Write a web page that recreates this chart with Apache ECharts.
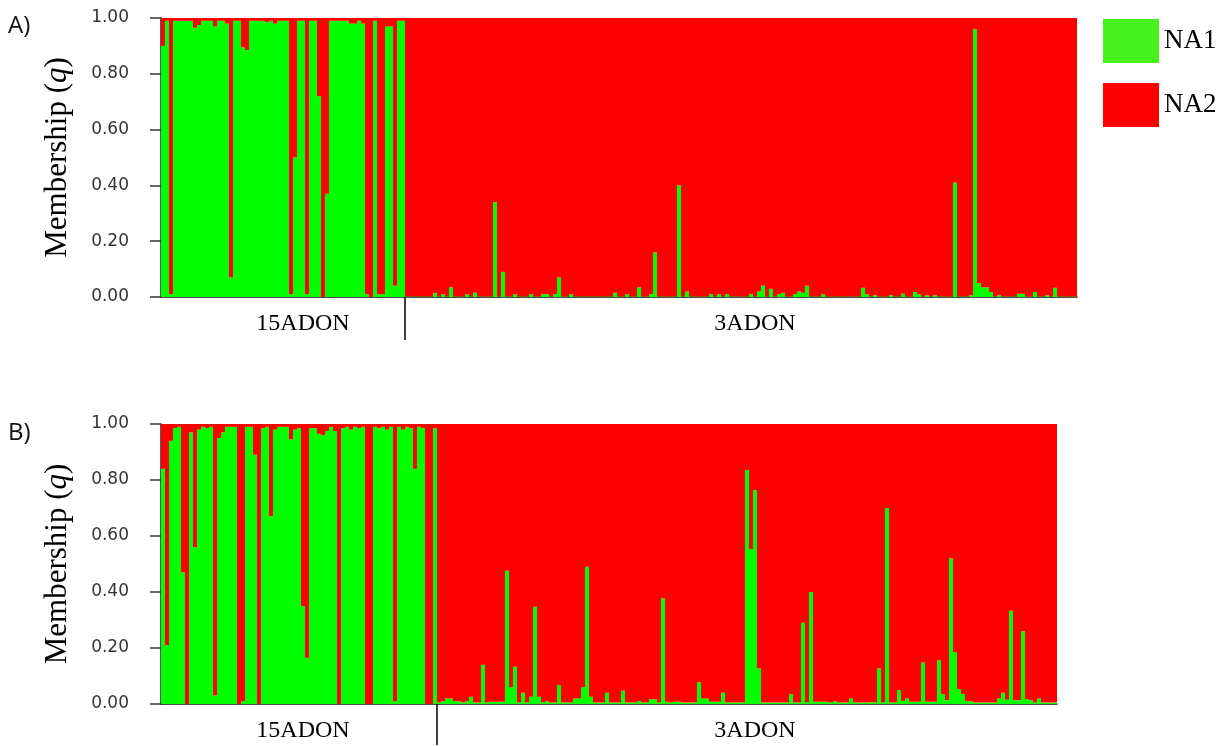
<!DOCTYPE html>
<html>
<head>
<meta charset="utf-8">
<script src="https://cdn.jsdelivr.net/npm/echarts@6/dist/echarts.min.js"></script>
<style>
html,body{margin:0;padding:0;background:#fff}
#chart{width:1231px;height:746px}
</style>
</head>
<body>
<div id="chart"></div>
<script>
// membership (q) of each isolate in cluster NA1; NA2 = 1 - q
var groups = ['15ADON', '3ADON'];
var clusters = ['NA1', 'NA2'];

// panel A
var qA15 = [0.90,0.99,0.01,0.99,0.99,0.99,0.99,0.99,0.965,0.975,
  0.99,0.99,0.99,0.97,0.99,0.99,0.98,0.07,0.99,0.99,
  0.895,0.885,0.99,0.99,0.99,0.99,0.985,0.99,0.98,0.99,
  0.99,0.99,0.01,0.50,0.99,0.99,0.01,0.99,0.99,0.72,
  0.00,0.37,0.99,0.99,0.99,0.99,0.99,0.98,0.98,0.99,
  0.98,0.01,0.00,0.99,0.01,0.01,0.97,0.97,0.04,0.99,
  0.99];
var qA3 = [0.002,0.002,0.002,0.002,0.002,0.002,0.002,0.013,0.002,0.01,
  0.002,0.035,0.002,0.002,0.002,0.01,0.002,0.015,0.002,0.002,
  0.002,0.002,0.34,0.002,0.09,0.002,0.002,0.01,0.002,0.002,
  0.002,0.01,0.002,0.002,0.01,0.01,0.002,0.01,0.07,0.002,
  0.002,0.01,0.002,0.002,0.002,0.002,0.002,0.002,0.002,0.002,
  0.002,0.002,0.015,0.002,0.002,0.01,0.002,0.002,0.035,0.002,
  0.002,0.01,0.16,0.002,0.002,0.002,0.002,0.002,0.40,0.002,
  0.02,0.002,0.002,0.002,0.002,0.002,0.01,0.002,0.01,0.002,
  0.01,0.002,0.002,0.002,0.002,0.002,0.01,0.002,0.02,0.04,
  0.002,0.03,0.002,0.01,0.015,0.002,0.002,0.01,0.02,0.015,
  0.04,0.002,0.002,0.002,0.01,0.002,0.002,0.002,0.002,0.002,
  0.002,0.002,0.002,0.002,0.033,0.01,0.002,0.006,0.002,0.002,
  0.002,0.006,0.002,0.002,0.012,0.002,0.002,0.018,0.01,0.002,
  0.006,0.002,0.006,0.002,0.002,0.002,0.002,0.41,0.002,0.002,
  0.002,0.006,0.96,0.05,0.035,0.035,0.018,0.002,0.006,0.002,
  0.002,0.002,0.002,0.012,0.012,0.002,0.002,0.018,0.002,0.002,
  0.006,0.002,0.033,0.002,0.002,0.002,0.002,0.002];

// panel B
var qB15 = [0.84,0.21,0.94,0.985,0.99,0.47,0.00,0.97,0.56,0.98,
  0.99,0.985,0.99,0.03,0.95,0.97,0.99,0.99,0.99,0.00,
  0.01,0.99,0.99,0.89,0.00,0.985,0.99,0.67,0.98,0.99,
  0.99,0.99,0.945,0.98,0.985,0.35,0.165,0.985,0.985,0.965,
  0.96,0.975,0.99,0.975,0.00,0.985,0.99,0.98,0.99,0.985,
  0.99,0.00,0.00,0.99,0.985,0.99,0.98,0.99,0.01,0.99,
  0.98,0.99,0.985,0.84,0.99,0.985,0.00,0.00,0.985];
var qB3 = [0.005,0.01,0.02,0.02,0.01,0.01,0.005,0.01,0.026,0.005,
  0.005,0.14,0.005,0.008,0.008,0.008,0.008,0.476,0.06,0.133,
  0.005,0.04,0.005,0.026,0.347,0.026,0.005,0.01,0.005,0.005,
  0.068,0.005,0.005,0.005,0.02,0.02,0.06,0.49,0.026,0.005,
  0.005,0.005,0.04,0.005,0.005,0.005,0.047,0.005,0.005,0.005,
  0.01,0.005,0.005,0.017,0.017,0.005,0.377,0.008,0.005,0.008,
  0.008,0.005,0.005,0.005,0.005,0.078,0.02,0.02,0.008,0.008,
  0.008,0.04,0.005,0.005,0.005,0.005,0.005,0.836,0.553,0.764,
  0.127,0.005,0.005,0.005,0.005,0.005,0.005,0.005,0.035,0.005,
  0.005,0.29,0.005,0.40,0.008,0.008,0.008,0.008,0.005,0.01,
  0.005,0.005,0.005,0.02,0.005,0.005,0.005,0.005,0.006,0.005,
  0.127,0.005,0.70,0.005,0.006,0.05,0.011,0.02,0.008,0.008,
  0.008,0.148,0.008,0.008,0.008,0.156,0.036,0.013,0.52,0.185,
  0.054,0.036,0.01,0.01,0.005,0.005,0.005,0.005,0.005,0.005,
  0.02,0.04,0.015,0.333,0.013,0.013,0.26,0.017,0.013,0.005,
  0.02,0.005,0.005,0.005,0.005];

var GREEN = '#00ff00', RED = '#ff0000';
var serif = 'Liberation Serif';

function ids(n) {
  var a = [];
  for (var i = 1; i <= n; i++) a.push(String(i));
  return a;
}

// category index under which each group name is written
var labelAt = {35: groups[0], 148: groups[1]};

var qA = qA15.concat(qA3);
var qB = qB15.concat(qB3);

function makeX(grid, n) {
  return {
    gridIndex: grid,
    type: 'category',
    data: ids(n),
    boundaryGap: true,
    axisLine: {lineStyle: {color: '#111', width: 1.5}},
    axisTick: {show: false},
    axisLabel: {
      interval: function (i) { return labelAt[i] !== undefined; },
      formatter: function (v, i) { return labelAt[i] || ''; },
      margin: 15,
      fontFamily: serif,
      fontSize: 24,
      color: '#000'
    },
    splitLine: {show: false}
  };
}

function makeY(grid) {
  return {
    gridIndex: grid,
    type: 'value',
    min: 0,
    max: 1,
    interval: 0.2,
    name: 'Membership ({i|q})',
    nameLocation: 'middle',
    nameGap: 88,
    nameTextStyle: {
      fontFamily: serif, fontSize: 31, color: '#000',
      rich: {i: {fontFamily: serif, fontSize: 31, fontStyle: 'italic', color: '#000'}}
    },
    axisLine: {show: true, lineStyle: {color: '#222', width: 1.5}},
    axisTick: {show: true, length: 11, lineStyle: {color: '#333', width: 1.5}},
    axisLabel: {
      margin: 32,
      fontFamily: 'DejaVu Sans',
      fontSize: 17,
      color: '#333',
      formatter: function (v) { return v.toFixed(2); }
    },
    splitLine: {show: false}
  };
}

function makeSeries(q, idx) {
  return [
    {
      name: clusters[0], type: 'bar', stack: 'p' + idx,
      xAxisIndex: idx, yAxisIndex: idx,
      data: q, barCategoryGap: '0%',
      itemStyle: {color: GREEN},
      emphasis: {disabled: true}
    },
    {
      name: clusters[1], type: 'bar', stack: 'p' + idx,
      xAxisIndex: idx, yAxisIndex: idx,
      data: q.map(function (v) { return +(1 - v).toFixed(4); }),
      barCategoryGap: '0%',
      itemStyle: {color: RED},
      emphasis: {disabled: true}
    }
  ];
}

var chart = echarts.init(document.getElementById('chart'), null, {renderer: 'canvas'});
chart.setOption({
  animation: false,
  backgroundColor: '#fff',
  grid: [
    {left: 161, top: 18, width: qA.length * 4, height: 279},
    {left: 161, top: 424, width: qB.length * 4, height: 280}
  ],
  legend: {
    data: [
      {name: clusters[0], itemStyle: {color: '#45f21e'}},
      {name: clusters[1], itemStyle: {color: RED}}
    ],
    orient: 'vertical',
    left: 1098,
    top: 14,
    itemWidth: 56,
    itemHeight: 44,
    itemGap: 20,
    icon: 'rect',
    selectedMode: false,
    textStyle: {fontFamily: serif, fontSize: 27, color: '#000'}
  },
  xAxis: [makeX(0, qA.length), makeX(1, qB.length)],
  yAxis: [makeY(0), makeY(1)],
  series: makeSeries(qA, 0).concat(makeSeries(qB, 1))
});

// divider between the two groups: boundary between last 15ADON and first 3ADON isolate
function divider(idx, nFirst, len) {
  var a = chart.convertToPixel({xAxisIndex: idx}, nFirst - 1);
  var b = chart.convertToPixel({xAxisIndex: idx}, nFirst);
  var y0 = chart.convertToPixel({yAxisIndex: idx}, 0);
  var x = Math.round((a + b) / 2);
  return {
    type: 'line',
    shape: {x1: x, y1: y0, x2: x, y2: y0 + len},
    style: {stroke: '#000', lineWidth: 1.5}
  };
}

chart.setOption({
  graphic: [
    {type: 'text', left: 8, top: 14, style: {text: 'A)', font: '24px "Open Sans"', fill: '#111'}},
    {type: 'text', left: 8, top: 421, style: {text: 'B)', font: '24px "Open Sans"', fill: '#111'}},
    divider(0, qA15.length, 43),
    divider(1, qB15.length, 41)
  ]
});
</script>
</body>
</html>
